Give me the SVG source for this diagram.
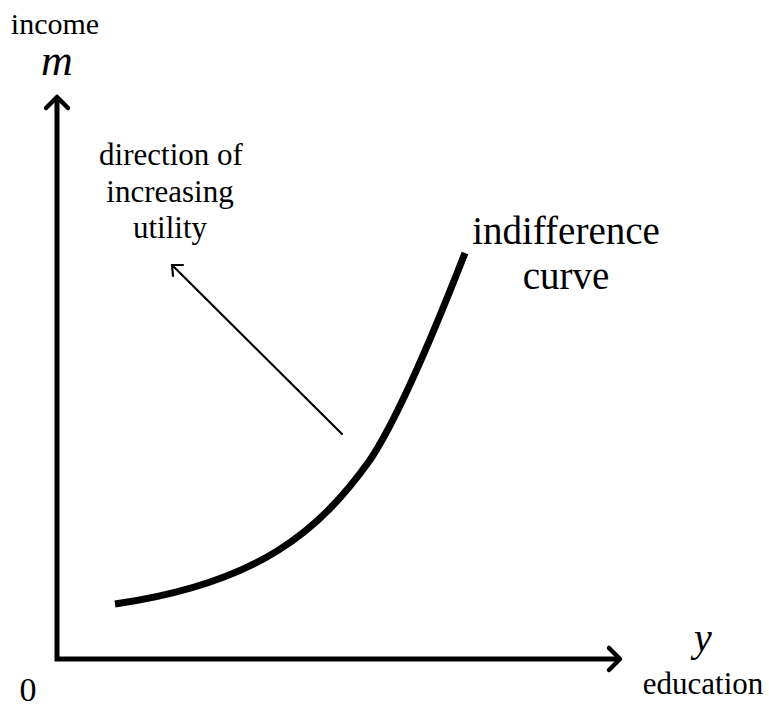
<svg xmlns="http://www.w3.org/2000/svg" width="769" height="709" viewBox="0 0 769 709">
<style>
text{font-family:"Liberation Serif","Times New Roman",serif;fill:#000}
.ax{stroke:#000;stroke-width:5;fill:none;stroke-linecap:butt}
.head{stroke:#000;stroke-width:4.5;fill:none;stroke-linecap:round;stroke-linejoin:round}
.thin{stroke:#000;stroke-width:2.2;fill:none;stroke-linecap:round;stroke-linejoin:round}
.it{font-style:italic}
</style>
<rect width="769" height="709" fill="#fff"/>
<g id="axes">
<path class="ax" d="M57,100 V659 H618"/>
<path class="head" d="M46,108 L57,97 L68,108"/>
<path class="head" d="M609,648 L620,659 L609,670"/>
</g>
<g id="curve">
<path d="M115,604 C260,583 320,530 370,460 C400,415 435,330 465,253" stroke="#000" stroke-width="7" fill="none"/>
</g>
<g id="connectors">
<path class="thin" d="M342,434 L172,265"/>
<path class="thin" d="M173,276 L172,265 L183,265"/>
</g>
<g id="labels">
<text x="55" y="34" font-size="30" text-anchor="middle">income</text>
<text x="57" y="75" font-size="44" text-anchor="middle" class="it">m</text>
<text x="28" y="701" font-size="34" text-anchor="middle">0</text>
<text x="703" y="651" font-size="40" text-anchor="middle" class="it">y</text>
<text x="703" y="694" font-size="31" text-anchor="middle">education</text>
<text x="171" y="165" font-size="31" text-anchor="middle">direction of</text>
<text x="170" y="202" font-size="31" text-anchor="middle">increasing</text>
<text x="170" y="238" font-size="31" text-anchor="middle">utility</text>
<text x="566" y="244" font-size="39" text-anchor="middle">indifference</text>
<text x="566" y="289" font-size="39" text-anchor="middle">curve</text>
</g>
</svg>
